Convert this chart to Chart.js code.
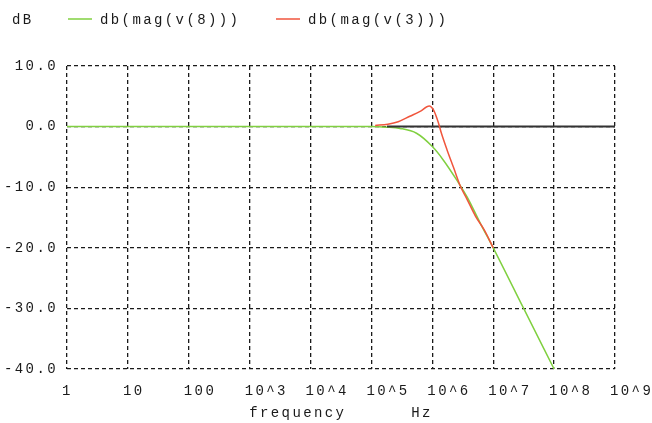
<!DOCTYPE html>
<html>
<head>
<meta charset="utf-8">
<script src="https://cdn.jsdelivr.net/npm/chart.js@4/dist/chart.umd.min.js"></script>
<style>
  body { margin: 0; background: #fff; }
  #wrap { width: 652px; height: 423px; position: relative; }
</style>
</head>
<body>
<div id="wrap"><canvas id="bode"></canvas></div>
<script>
// frequency in Hz, magnitude in dB
const v8Freq = [1, 10, 100, 1e3, 1e4, 1e5, 1.8e5, 2.95e5, 5.5e5, 1e6, 1.51e6, 2.51e6, 3.72e6, 6.17e6, 1e7, 3.16e7, 1e8];
const v8Db   = [0, 0, 0, 0, 0, 0, -0.1, -0.3, -1.1, -3.3, -5.5, -8.8, -11.6, -16, -20, -30, -40];

const v3Freq = [1.15e5, 1.86e5, 2.75e5, 4.27e5, 6.3e5, 8.9e5, 1.05e6, 1.26e6, 1.41e6, 1.74e6, 2.24e6, 2.88e6, 3.72e6, 5.13e6, 7.08e6, 1e7];
const v3Db   = [0.2, 0.4, 0.8, 1.7, 2.5, 3.4, 2.7, 0.6, -1.1, -3.8, -6.8, -9.8, -12, -14.8, -17, -20];

const refFreq = [1.8e5, 1e9];
const refDb   = [0, 0];

const xTickLabels = ['1', '10', '100', '10^3', '10^4', '10^5', '10^6', '10^7', '10^8', '10^9'];
const legendNames = ['db(mag(v(8)))', 'db(mag(v(3)))'];
const yUnit = 'dB';

const GREEN = 'rgb(128, 208, 64)';
const RED = 'rgb(240, 85, 60)';
const INK = '#1a1a1a';
const FONT = '"Liberation Mono", "DejaVu Sans Mono", monospace';

function pts(xs, ys) {
    let out = [];
    for (let i = 0; i < xs.length; i++) {
        out.push({x: xs[i], y: ys[i]});
    }
    return out;
}

// spaced-out monospace text like the original screenshot
const spacing = {
    id: 'spacing',
    beforeLayout(chart) { chart.ctx.letterSpacing = '2.4px'; },
    beforeDraw(chart) { chart.ctx.letterSpacing = '2.4px'; }
};

// header line: unit + legend items
const header = {
    id: 'header',
    afterDraw(chart) {
        let ctx = chart.ctx;
        ctx.save();
        ctx.letterSpacing = '2.4px';
        ctx.font = '14px ' + FONT;
        ctx.fillStyle = INK;
        ctx.textBaseline = 'middle';
        ctx.fillText(yUnit, 12, 20);
        let items = [[GREEN, 68, 100], [RED, 276, 308]];
        for (let i = 0; i < items.length; i++) {
            ctx.strokeStyle = items[i][0];
            ctx.lineWidth = 1.5;
            ctx.beginPath();
            ctx.moveTo(items[i][1], 19);
            ctx.lineTo(items[i][1] + 24, 19);
            ctx.stroke();
            ctx.fillText(legendNames[i], items[i][2], 20);
        }
        ctx.restore();
    }
};

new Chart(document.querySelector('#bode'), {
    type: 'line',
    data: {
        datasets: [{
            label: legendNames[1],
            data: pts(v3Freq, v3Db),
            borderColor: RED,
            borderWidth: 1.5,
            order: 0
        }, {
            label: 'ref',
            data: pts(refFreq, refDb),
            borderColor: '#333',
            borderWidth: 2,
            order: 1
        }, {
            label: legendNames[0],
            data: pts(v8Freq, v8Db),
            borderColor: GREEN,
            borderWidth: 1.5,
            order: 2
        }]
    },
    options: {
        responsive: true,
        maintainAspectRatio: false,
        animation: false,
        layout: {
            padding: {top: 66, left: 0, right: 37, bottom: 0}
        },
        elements: {
            point: {radius: 0},
            line: {cubicInterpolationMode: 'monotone'}
        },
        plugins: {
            legend: {display: false},
            tooltip: {enabled: false}
        },
        scales: {
            x: {
                type: 'logarithmic',
                min: 1,
                max: 1e9,
                afterBuildTicks(scale) {
                    scale.ticks = xTickLabels.map((l, i) => ({value: Math.pow(10, i)}));
                },
                afterFit(scale) {
                    scale.height = 54;
                    scale.paddingLeft = 0;
                    scale.paddingRight = 0;
                },
                border: {display: false, dash: [4, 3]},
                grid: {color: INK, lineWidth: 1.3, drawTicks: false},
                ticks: {
                    autoSkip: false,
                    maxRotation: 0,
                    align: 'start',
                    labelOffset: -5,
                    padding: 14,
                    color: INK,
                    font: {family: FONT, size: 14},
                    callback: (v, i) => xTickLabels[i]
                },
                title: {
                    display: true,
                    text: 'frequency      Hz',
                    color: INK,
                    padding: {top: 0, bottom: 1},
                    font: {family: FONT, size: 14}
                }
            },
            y: {
                min: -40,
                max: 10,
                afterFit(scale) { scale.width = 67; },
                border: {display: false, dash: [4, 3]},
                grid: {color: INK, lineWidth: 1.3, drawTicks: false},
                ticks: {
                    stepSize: 10,
                    padding: 9,
                    color: INK,
                    font: {family: FONT, size: 14},
                    callback: v => v.toFixed(1)
                }
            }
        }
    },
    plugins: [spacing, header]
});
</script>
</body>
</html>
